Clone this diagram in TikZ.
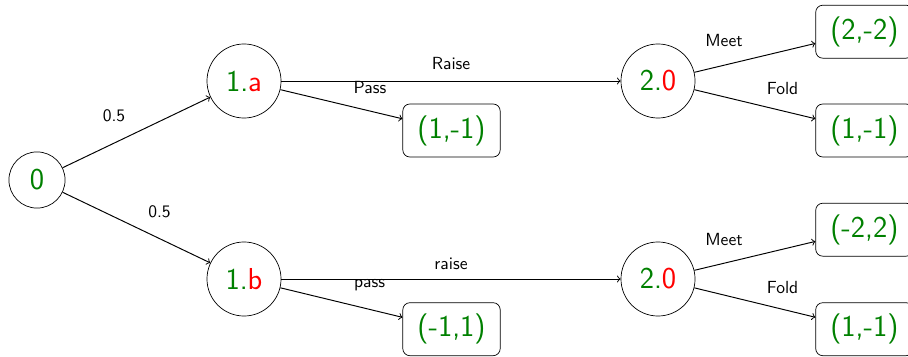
\documentclass[tikz,border=0pt]{standalone}
\usetikzlibrary{arrows}
\definecolor{valgreen}{RGB}{0,128,0}
\definecolor{valred}{RGB}{255,0,0}
\tikzset{
  state/.style={draw, circle, inner sep=0pt, font=\LARGE\sffamily},
  payoff/.style={draw, rounded corners=4pt, minimum width=55.5pt, minimum height=30.2pt,
                 inner sep=0pt, text=valgreen, font=\LARGE\sffamily},
  edge/.style={->, line width=0.55pt},
  lbl/.style={anchor=base, inner sep=0pt, font=\normalsize\sffamily}
}
\begin{document}
\begin{tikzpicture}[x=0.57pt, y=-0.57pt]
  \useasboundingbox (0,0) rectangle (908,357);

  % decision nodes
  \node[state, minimum size=32pt] (root) at (37,180) {\textcolor{valgreen}{0}};
  \node[state, minimum size=42.2pt] (pa) at (244,81) {\textcolor{valgreen}{1.}\textcolor{valred}{a}};
  \node[state, minimum size=42.2pt] (pb) at (244,279) {\textcolor{valgreen}{1.}\textcolor{valred}{b}};
  \node[state, minimum size=42.2pt] (qa) at (658,81) {\textcolor{valgreen}{2.}\textcolor{valred}{0}};
  \node[state, minimum size=42.2pt] (qb) at (658,279) {\textcolor{valgreen}{2.}\textcolor{valred}{0}};

  % terminal payoffs
  \node[payoff] (ta) at (451.5,130.5) {(1,-1)};
  \node[payoff] (tb) at (451.5,329.2) {(-1,1)};
  \node[payoff] (ua) at (864.4,31.7) {(2,-2)};
  \node[payoff] (ub) at (864.4,130.5) {(1,-1)};
  \node[payoff] (uc) at (864.4,229.7) {(-2,2)};
  \node[payoff] (ud) at (864.4,329.2) {(1,-1)};

  % chance moves
  \draw[edge] (root) -- (pa) node[lbl] at (114,122) {0.5};
  \draw[edge] (root) -- (pb) node[lbl] at (159.5,217) {0.5};

  % first player
  \draw[edge] (pa) -- (qa) node[lbl] at (451,70) {Raise};
  \draw[edge] (pa) -- (ta) node[lbl] at (370,94) {Pass};
  \draw[edge] (pb) -- (qb) node[lbl] at (451,269) {raise};
  \draw[edge] (pb) -- (tb) node[lbl] at (369.5,287.5) {pass};

  % second player
  \draw[edge] (qa) -- (ua) node[lbl] at (724,47) {Meet};
  \draw[edge] (qa) -- (ub) node[lbl] at (782.5,95) {Fold};
  \draw[edge] (qb) -- (uc) node[lbl] at (724,245.5) {Meet};
  \draw[edge] (qb) -- (ud) node[lbl] at (782.5,293.5) {Fold};
\end{tikzpicture}
\end{document}
